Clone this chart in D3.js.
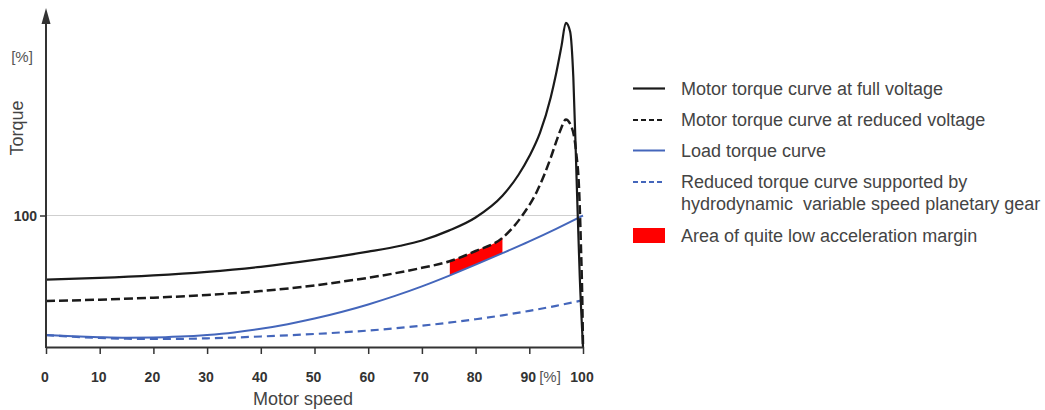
<!DOCTYPE html>
<html>
<head>
<meta charset="utf-8">
<script src="https://cdn.jsdelivr.net/npm/d3@7"></script>
<style>
  html, body { margin: 0; padding: 0; background: #fff; }
  svg { display: block; }
  text { font-family: "Liberation Sans", Arial, sans-serif; }
</style>
</head>
<body>
<svg id="chart" width="1045" height="410"></svg>
<script>
// ---- data (speed %, torque %) ----
const xTicks = [0, 10, 20, 30, 40, 50, 60, 70, 80, 90, 100];
const yTicks = [100];

const fullSpeed  = [0, 10, 20, 30, 40, 50, 60, 66, 70, 75, 80, 85, 88, 90, 92, 94, 95, 96, 96.8, 97.6, 98.2, 98.8, 99.4, 100];
const fullTorque = [51.3, 52.6, 54.5, 57.2, 61, 66.2, 72.5, 77, 81, 88.5, 98.5, 115, 131, 145, 163, 190, 208, 229, 246.5, 240, 205, 129, 53, 0];

const redSpeed  = [0, 10, 20, 30, 40, 50, 55, 60, 65, 70, 75, 80, 85, 88.7, 91.5, 94, 95, 95.9, 96.8, 97.8, 98.7, 99.3, 99.6, 99.9, 100];
const redTorque = [35, 36, 37.5, 39.6, 42.5, 46.8, 49.6, 52.6, 56.1, 60.2, 65, 73, 83, 100, 119, 144, 156, 166, 173, 168, 149, 117, 79, 28, 0];

const loadSpeed  = [0, 5, 10, 15, 20, 25, 30, 35, 40, 45, 50, 55, 60, 65, 70, 75, 80, 85, 90, 95, 100];
const loadTorque = [9.1, 8.2, 7.5, 7.1, 7.2, 7.9, 9.2, 11.1, 13.85, 17.35, 21.6, 26.6, 32.35, 38.85, 46.1, 54.1, 62.6, 71.35, 80.35, 89.9, 100];

const gearSpeed  = [0, 5, 10, 15, 20, 25, 30, 35, 40, 45, 50, 55, 60, 65, 70, 75, 80, 85, 90, 95, 100];
const gearTorque = [9.1, 7.8, 6.9, 6.3, 6.1, 6.2, 6.6, 7.2, 8.0, 8.9, 9.9, 11.1, 12.5, 14.2, 16.2, 18.5, 21.1, 24.1, 27.5, 31.3, 35.6];

const marginRange = [75.2, 85];

const legendLabels = [
  ["Motor torque curve at full voltage"],
  ["Motor torque curve at reduced voltage"],
  ["Load torque curve"],
  ["Reduced torque curve supported by", "hydrodynamic  variable speed planetary gear"],
  ["Area of quite low acceleration margin"]
];

// ---- build ----
const zip = (xs, ys) => xs.map((v, i) => ({ s: v, t: ys[i] }));
const full = zip(fullSpeed, fullTorque);
const reduced = zip(redSpeed, redTorque);
const load = zip(loadSpeed, loadTorque);
const gear = zip(gearSpeed, gearTorque);

const svg = d3.select("#chart");
const x = d3.scaleLinear().domain([0, 100]).range([46, 583]);
const y = d3.scaleLinear().domain([0, 100]).range([347, 215.5]);

const BLACK = "#1a1a1a", BLUE = "#4466bb", AXIS = "#333";

const line = d3.line().x(d => x(d.s)).y(d => y(d.t)).curve(d3.curveMonotoneX);

// gridline at 100
svg.append("line")
  .attr("x1", x(0)).attr("x2", x(100))
  .attr("y1", y(100)).attr("y2", y(100))
  .attr("stroke", "#cfcfcf").attr("stroke-width", 1.2);

// red margin area: region under reduced curve, above load curve, clipped to range
const defs = svg.append("defs");
defs.append("clipPath").attr("id", "rangeClip")
  .append("rect")
  .attr("x", x(marginRange[0])).attr("width", x(marginRange[1]) - x(marginRange[0]))
  .attr("y", 0).attr("height", 410);
defs.append("clipPath").attr("id", "aboveLoad")
  .append("path")
  .attr("d", d3.area().x(d => x(d.s)).y0(0).y1(d => y(d.t)).curve(d3.curveMonotoneX)(load));

svg.append("g").attr("clip-path", "url(#aboveLoad)")
  .append("g").attr("clip-path", "url(#rangeClip)")
  .append("path")
  .attr("d", d3.area().x(d => x(d.s)).y0(y(0)).y1(d => y(d.t)).curve(d3.curveMonotoneX)(reduced))
  .attr("fill", "#ff0000");

// curves
svg.append("path").attr("d", line(gear)).attr("fill", "none")
  .attr("stroke", BLUE).attr("stroke-width", 2.2).attr("stroke-dasharray", "8,5");
svg.append("path").attr("d", line(load)).attr("fill", "none")
  .attr("stroke", BLUE).attr("stroke-width", 2);
svg.append("path").attr("d", line(reduced)).attr("fill", "none")
  .attr("stroke", BLACK).attr("stroke-width", 2.5).attr("stroke-dasharray", "9,4");
svg.append("path").attr("d", line(full)).attr("fill", "none")
  .attr("stroke", BLACK).attr("stroke-width", 2.2);

// x axis
const xAxis = svg.append("g").attr("transform", `translate(0,${y(0)})`)
  .call(d3.axisBottom(x).tickValues(xTicks).tickSize(7).tickSizeOuter(0).tickFormat(d3.format("d")));
xAxis.select(".domain").attr("stroke", AXIS).attr("stroke-width", 2);
xAxis.selectAll(".tick line").attr("stroke", AXIS).attr("stroke-width", 1.5);
xAxis.selectAll(".tick text")
  .attr("y", 35).attr("dy", 0).attr("dx", -1.5)
  .attr("fill", "#333").attr("font-size", 14).attr("font-weight", "bold")
  .attr("font-family", "'Liberation Sans', Arial, sans-serif");

// y axis
const yAxis = svg.append("g").attr("transform", `translate(${x(0)},0)`)
  .call(d3.axisLeft(y).tickValues(yTicks).tickSize(6).tickSizeOuter(0).tickFormat(d3.format("d")));
yAxis.select(".domain").remove();
yAxis.selectAll(".tick line").attr("stroke", AXIS).attr("stroke-width", 1.5);
yAxis.selectAll(".tick text")
  .attr("x", -9).attr("dy", "0.35em")
  .attr("fill", "#333").attr("font-size", 14).attr("font-weight", "bold")
  .attr("font-family", "'Liberation Sans', Arial, sans-serif");
svg.append("line").attr("x1", x(0)).attr("x2", x(0)).attr("y1", y(0) + 1).attr("y2", 20)
  .attr("stroke", AXIS).attr("stroke-width", 2);
svg.append("path")
  .attr("d", `M${x(0)},8 L${x(0) - 4.5},24 L${x(0) + 4.5},24 Z`)
  .attr("fill", AXIS);

// axis titles
svg.append("text").attr("x", 22).attr("y", 57).attr("dy", "0.35em")
  .attr("text-anchor", "middle").attr("font-size", 15).attr("fill", "#555").text("[%]");
svg.append("text").attr("transform", "translate(23,128) rotate(-90)")
  .attr("text-anchor", "middle").attr("font-size", 18).attr("fill", "#444").text("Torque");
svg.append("text").attr("x", 550).attr("y", 382)
  .attr("text-anchor", "middle").attr("font-size", 15).attr("fill", "#555").text("[%]");
svg.append("text").attr("x", 303).attr("y", 405)
  .attr("text-anchor", "middle").attr("font-size", 18).attr("fill", "#444").text("Motor speed");

// legend
const lg = svg.append("g");
const rowY = [88.5, 120, 150.5, 182, 236];
const lx0 = 633, lx1 = 665, tx = 681;
const styles = [
  { stroke: BLACK, dash: null, w: 2.2 },
  { stroke: BLACK, dash: "5,3", w: 2.2 },
  { stroke: BLUE, dash: null, w: 2 },
  { stroke: BLUE, dash: "5,3", w: 2 },
  null
];
legendLabels.forEach((lines, i) => {
  const cy = rowY[i];
  if (styles[i]) {
    lg.append("line").attr("x1", lx0).attr("x2", lx1).attr("y1", cy).attr("y2", cy)
      .attr("stroke", styles[i].stroke).attr("stroke-width", styles[i].w)
      .attr("stroke-dasharray", styles[i].dash);
  } else {
    lg.append("rect").attr("x", lx0).attr("y", cy - 8).attr("width", lx1 - lx0).attr("height", 15)
      .attr("fill", "#ff0000");
  }
  lines.forEach((t, j) => {
    lg.append("text").attr("x", tx).attr("y", cy + j * 21.5).attr("dy", "0.35em")
      .attr("font-size", 18).attr("fill", "#444").attr("xml:space", "preserve")
      .style("white-space", "pre").text(t);
  });
});
</script>
</body>
</html>
